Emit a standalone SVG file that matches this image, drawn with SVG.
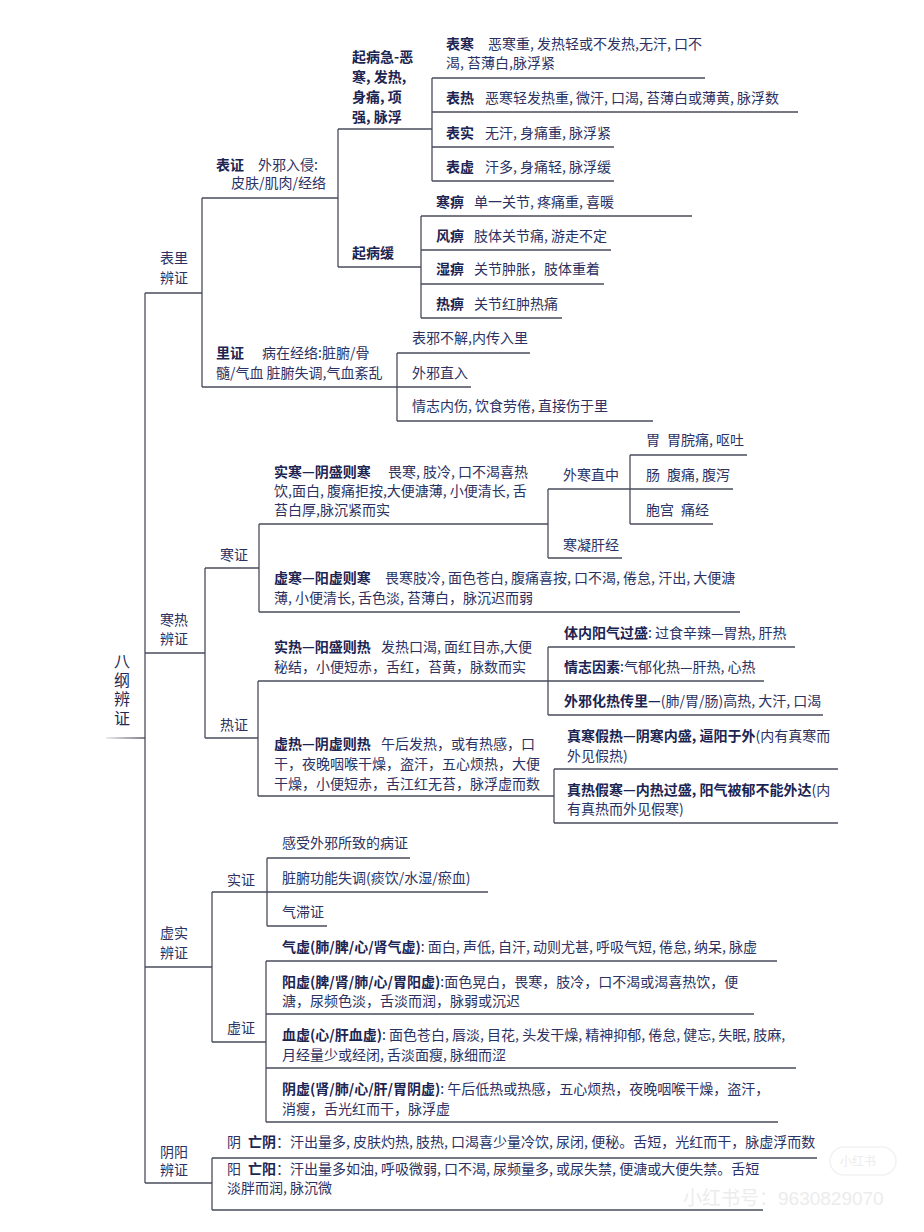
<svg xmlns="http://www.w3.org/2000/svg" width="924" height="1232" viewBox="0 0 924 1232">
<style>
text{font-family:"Noto Sans CJK SC","Noto Sans",sans-serif;font-size:14px;fill:#2b3263}
.b{font-weight:bold;fill:#1c2452}
.root{font-size:16px;fill:#1e2a55}
.ln{fill:none;stroke:#4a4c5c;stroke-width:1.3}
.wm{fill:#ececec;font-family:"Liberation Sans","Noto Sans CJK SC",sans-serif;font-size:19px}
</style>
<defs>
<linearGradient id="fade" x1="0" x2="1" y1="0" y2="0"><stop offset="0" stop-color="#4a4c5c" stop-opacity="0.15"/><stop offset="0.5" stop-color="#4a4c5c" stop-opacity="0.6"/><stop offset="1" stop-color="#4a4c5c"/></linearGradient>
</defs>
<rect width="924" height="1232" fill="#fff"/>
<g id="connectors" class="ln">
<rect x="106" y="737.3" width="39" height="1.4" fill="url(#fade)" stroke="none"/>
<path d="M145 293V1183"/>
<path d="M145 293H202M202 198V387"/>
<path d="M202 198H338M338 129V267"/>
<path d="M338 129H432M432 78V181"/>
<path d="M432 78H705M432 112H798M432 147H614M432 181H614"/>
<path d="M338 267H421M421 216V318"/>
<path d="M421 216H692M421 250H611M421 284H604M421 318H562"/>
<path d="M202 387H397M397 353V421"/>
<path d="M397 353H530M397 387H471M397 421H653"/>
<path d="M145 653H205M205 568V738"/>
<path d="M205 568H259M259 524V612"/>
<path d="M259 524H548M259 612H740"/>
<path d="M548 489V558M548 489H630M548 558H622"/>
<path d="M630 455V524M630 455H747M630 489H733M630 524H713"/>
<path d="M205 738H258M258 681V796"/>
<path d="M258 681H548M258 796H554"/>
<path d="M548 647V715M548 647H795M548 681H764M548 715H823"/>
<path d="M554 769V823M554 769H838M554 823H838"/>
<path d="M145 967H212M212 892V1042"/>
<path d="M212 892H267M267 858V926"/>
<path d="M267 858H410M267 892H488M267 926H327"/>
<path d="M212 1042H266M266 961V1122"/>
<path d="M266 961H777M266 1014H754M266 1068H796M266 1122H778"/>
<path d="M145 1183H212M212 1158V1210"/>
<path d="M212 1158H817M212 1210H763"/>
</g>
<g id="root"><text class="root" x="122" y="653" writing-mode="vertical-rl" letter-spacing="3">八纲辨证</text></g>
<g id="biaoli"><text x="160" y="263">表里</text><text x="160" y="283">辨证</text></g>
<g id="biaozheng"><text x="216" y="170"><tspan class="b">表证</tspan><tspan x="258">外邪入侵:</tspan></text><text x="231" y="188">皮肤/肌肉/经络</text></g>
<g id="qibingji"><text class="b" x="352" y="62">起病急-恶</text><text class="b" x="352" y="82">寒, 发热,</text><text class="b" x="352" y="102">身痛, 项</text><text class="b" x="352" y="122">强, 脉浮</text></g>
<g id="biaohan"><text x="446" y="49"><tspan class="b">表寒</tspan><tspan x="488">恶寒重, 发热轻或不发热,无汗, 口不</tspan></text><text x="446" y="68">渴, 苔薄白,脉浮紧</text></g>
<g id="biaore"><text x="446" y="103"><tspan class="b">表热</tspan><tspan x="485">恶寒轻发热重, 微汗, 口渴, 苔薄白或薄黄, 脉浮数</tspan></text></g>
<g id="biaoshi"><text x="446" y="138"><tspan class="b">表实</tspan><tspan x="485">无汗, 身痛重, 脉浮紧</tspan></text></g>
<g id="biaoxu"><text x="446" y="172"><tspan class="b">表虚</tspan><tspan x="485">汗多, 身痛轻, 脉浮缓</tspan></text></g>
<g id="qibinghuan"><text class="b" x="352" y="258">起病缓</text></g>
<g id="hanbi"><text x="436" y="207"><tspan class="b">寒痹</tspan><tspan x="474">单一关节, 疼痛重, 喜暖</tspan></text></g>
<g id="fengbi"><text x="436" y="241"><tspan class="b">风痹</tspan><tspan x="474">肢体关节痛, 游走不定</tspan></text></g>
<g id="shibi"><text x="436" y="274"><tspan class="b">湿痹</tspan><tspan x="474">关节肿胀，肢体重着</tspan></text></g>
<g id="rebi"><text x="436" y="309"><tspan class="b">热痹</tspan><tspan x="474">关节红肿热痛</tspan></text></g>
<g id="lizheng"><text x="216" y="358"><tspan class="b">里证</tspan><tspan x="262">病在经络:脏腑/骨</tspan></text><text x="216" y="378">髓/气血 脏腑失调,气血紊乱</text></g>
<g id="li1"><text x="412" y="343">表邪不解,内传入里</text></g>
<g id="li2"><text x="412" y="378">外邪直入</text></g>
<g id="li3"><text x="412" y="411">情志内伤, 饮食劳倦, 直接伤于里</text></g>
<g id="hanre"><text x="160" y="625">寒热</text><text x="160" y="644">辨证</text></g>
<g id="hanzheng"><text x="220" y="560">寒证</text></g>
<g id="shihan"><text x="274" y="477"><tspan class="b">实寒—阴盛则寒</tspan><tspan x="388">畏寒, 肢冷, 口不渴喜热</tspan></text><text x="274" y="496">饮,面白, 腹痛拒按,大便溏薄, 小便清长, 舌</text><text x="274" y="515">苔白厚,脉沉紧而实</text></g>
<g id="xuhan"><text x="274" y="583"><tspan class="b">虚寒—阳虚则寒</tspan><tspan x="385">畏寒肢冷, 面色苍白, 腹痛喜按, 口不渴, 倦怠, 汗出, 大便溏</tspan></text><text x="274" y="603">薄, 小便清长, 舌色淡, 苔薄白，脉沉迟而弱</text></g>
<g id="waihan"><text x="563" y="480">外寒直中</text></g>
<g id="hanning"><text x="563" y="550">寒凝肝经</text></g>
<g id="wei"><text x="646" y="445">胃<tspan x="667">胃脘痛, 呕吐</tspan></text></g>
<g id="chang"><text x="646" y="480">肠<tspan x="667">腹痛, 腹泻</tspan></text></g>
<g id="baogong"><text x="646" y="515">胞宫<tspan x="681">痛经</tspan></text></g>
<g id="rezheng"><text x="220" y="730">热证</text></g>
<g id="shire"><text x="274" y="652"><tspan class="b">实热—阳盛则热</tspan><tspan x="381">发热口渴, 面红目赤,大便</tspan></text><text x="274" y="672">秘结，小便短赤，舌红，苔黄，脉数而实</text></g>
<g id="xure"><text x="274" y="749"><tspan class="b">虚热—阴虚则热</tspan><tspan x="381">午后发热，或有热感，口</tspan></text><text x="274" y="769">干，夜晚咽喉干燥，盗汗，五心烦热，大便</text><text x="274" y="789">干燥，小便短赤，舌江红无苔，脉浮虚而数</text></g>
<g id="tinei"><text x="564" y="638"><tspan class="b">体内阳气过盛</tspan>: 过食辛辣—胃热, 肝热</text></g>
<g id="qingzhi"><text x="564" y="672"><tspan class="b">情志因素</tspan>:气郁化热—肝热, 心热</text></g>
<g id="waixie"><text x="564" y="706"><tspan class="b">外邪化热传里—</tspan>(肺/胃/肠)高热, 大汗, 口渴</text></g>
<g id="zhenhan"><text x="567" y="741"><tspan class="b">真寒假热—阴寒内盛, 逼阳于外</tspan>(内有真寒而</text><text x="567" y="761">外见假热)</text></g>
<g id="zhenre"><text x="567" y="795"><tspan class="b">真热假寒—内热过盛, 阳气被郁不能外达</tspan>(内</text><text x="567" y="814">有真热而外见假寒)</text></g>
<g id="xushi"><text x="160" y="938">虚实</text><text x="160" y="958">辨证</text></g>
<g id="shizheng"><text x="227" y="885">实证</text></g>
<g id="sz1"><text x="282" y="848">感受外邪所致的病证</text></g>
<g id="sz2"><text x="282" y="883">脏腑功能失调(痰饮/水湿/瘀血)</text></g>
<g id="sz3"><text x="282" y="917">气滞证</text></g>
<g id="xuzheng"><text x="227" y="1033">虚证</text></g>
<g id="qixu"><text x="282" y="952"><tspan class="b">气虚(肺/脾/心/肾气虚)</tspan>: 面白, 声低, 自汗, 动则尤甚, 呼吸气短, 倦怠, 纳呆, 脉虚</text></g>
<g id="yangxu"><text x="282" y="987"><tspan class="b">阳虚(脾/肾/肺/心/胃阳虚)</tspan>:面色晃白，畏寒，肢冷，口不渴或渴喜热饮，便</text><text x="282" y="1006">溏，尿频色淡，舌淡而润，脉弱或沉迟</text></g>
<g id="xuexu"><text x="282" y="1040"><tspan class="b">血虚(心/肝血虚)</tspan>: 面色苍白, 唇淡, 目花, 头发干燥, 精神抑郁, 倦怠, 健忘, 失眠, 肢麻,</text><text x="282" y="1060">月经量少或经闭, 舌淡面瘦, 脉细而涩</text></g>
<g id="yinxu"><text x="282" y="1094"><tspan class="b">阴虚(肾/肺/心/肝/胃阴虚)</tspan>: 午后低热或热感，五心烦热，夜晚咽喉干燥，盗汗，</text><text x="282" y="1114">消瘦，舌光红而干，脉浮虚</text></g>
<g id="yinyang"><text x="160" y="1157">阴阳</text><text x="160" y="1175">辨证</text></g>
<g id="wangyin"><text x="227" y="1147">阴 <tspan class="b" x="248">亡阴</tspan>：汗出量多, 皮肤灼热, 肢热, 口渴喜少量冷饮, 尿闭, 便秘。舌短，光红而干，脉虚浮而数</text></g>
<g id="wangyang"><text x="227" y="1174">阳 <tspan class="b" x="248">亡阳</tspan>：汗出量多如油, 呼吸微弱, 口不渴, 尿频量多, 或尿失禁, 便溏或大便失禁。舌短</text><text x="227" y="1193">淡胖而润, 脉沉微</text></g>
<g id="watermark"><rect x="830" y="1147" width="66" height="28" rx="14" fill="none" stroke="#f2f2f2" stroke-width="1.5"/><text class="wm" x="840" y="1166" style="font-size:12px">小红书</text><text class="wm" x="683" y="1205">小红书号：9630829070</text></g>
</svg>
